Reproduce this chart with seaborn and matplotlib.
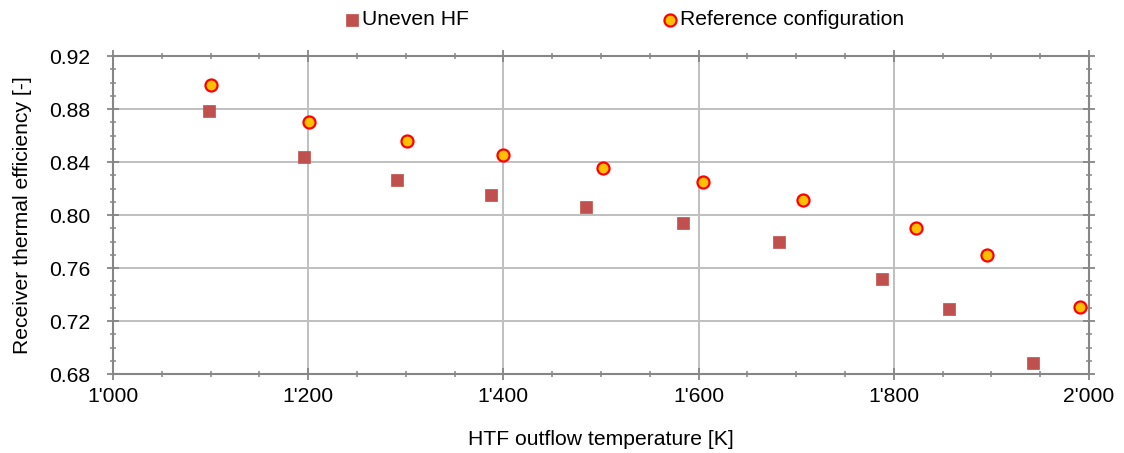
import matplotlib
matplotlib.use("Agg")
import matplotlib.pyplot as plt
import seaborn as sns
import pandas as pd
from matplotlib.ticker import MultipleLocator, FuncFormatter

uneven_T = [1098, 1196, 1291, 1387, 1485, 1584, 1682, 1788, 1857, 1943]
uneven_eff = [0.8785, 0.8438, 0.8262, 0.8151, 0.8058, 0.7942, 0.7797, 0.7517, 0.7290, 0.6880]
ref_T = [1100, 1201, 1301, 1400, 1502, 1605, 1707, 1823, 1895, 1991]
ref_eff = [0.8979, 0.8700, 0.8556, 0.8450, 0.8358, 0.8249, 0.8113, 0.7905, 0.7695, 0.7303]
series_names = ["Uneven HF", "Reference configuration"]
x_label = "HTF outflow temperature [K]"
y_label = "Receiver thermal efficiency [-]"

sns.set_theme(style="white")
plt.rcParams['font.family'] = ['Liberation Sans', 'DejaVu Sans']
plt.rcParams['text.color'] = 'black'
plt.rcParams['axes.labelcolor'] = 'black'

FS = 15.2

fig = plt.figure(figsize=(11.24, 4.53), dpi=100)
ax = fig.add_axes([113/1124, 1-374/453, (1089-113)/1124, (374-56)/453])

df_u = pd.DataFrame({"T": uneven_T, "eff": uneven_eff})
df_r = pd.DataFrame({"T": ref_T, "eff": ref_eff})

sns.scatterplot(data=df_u, x="T", y="eff", ax=ax, marker="s", s=85,
                color="#C0504D", edgecolor="#C0504D", linewidth=0.5,
                label=series_names[0], zorder=3)
sns.scatterplot(data=df_r, x="T", y="eff", ax=ax, marker="o", s=75,
                color="#FFC000", edgecolor="#FF0000", linewidth=1.6,
                label=series_names[1], zorder=3)

ax.set_xlim(1000, 2000)
ax.set_ylim(0.68, 0.92)
ax.xaxis.set_major_locator(MultipleLocator(200))
ax.xaxis.set_minor_locator(MultipleLocator(50))
ax.yaxis.set_major_locator(MultipleLocator(0.04))
ax.yaxis.set_minor_locator(MultipleLocator(0.01))

def thousands(v, pos):
    v = int(round(v))
    return f"{v // 1000}'{v % 1000:03d}" if v >= 1000 else str(v)

ax.xaxis.set_major_formatter(FuncFormatter(thousands))
ax.yaxis.set_major_formatter(FuncFormatter(lambda v, p: f"{v:.2f}"))

ax.grid(True, which="major", color="#BFBFBF", linewidth=1.4, zorder=0)
ax.set_axisbelow(True)
for sp in ax.spines.values():
    sp.set_color("#868686")
    sp.set_linewidth(1.5)
    sp.set_visible(True)

ax.tick_params(which="both", direction="inout", color="#868686",
               top=True, right=True, bottom=True, left=True,
               labelsize=FS, labelcolor="black")
ax.tick_params(which="major", length=9, width=1.3)
ax.tick_params(which="minor", length=5, width=1.1)
ax.tick_params(axis="y", which="major", pad=12)
ax.tick_params(axis="x", which="major", pad=5)

ax.set_xlabel(x_label, fontsize=FS, labelpad=17, color="black")
ax.set_ylabel(y_label, fontsize=FS, labelpad=12, color="black")

ax.legend_.remove()
h, l = ax.get_legend_handles_labels()
leg = fig.legend(h, l, loc="center", bbox_to_anchor=(0.556, 0.956), ncol=2,
                 frameon=False, fontsize=FS, handlelength=0.6, handletextpad=0.2,
                 columnspacing=9.2, markerscale=1.0)
for t in leg.get_texts():
    t.set_color("black")

fig.savefig("out.png", dpi=100)
